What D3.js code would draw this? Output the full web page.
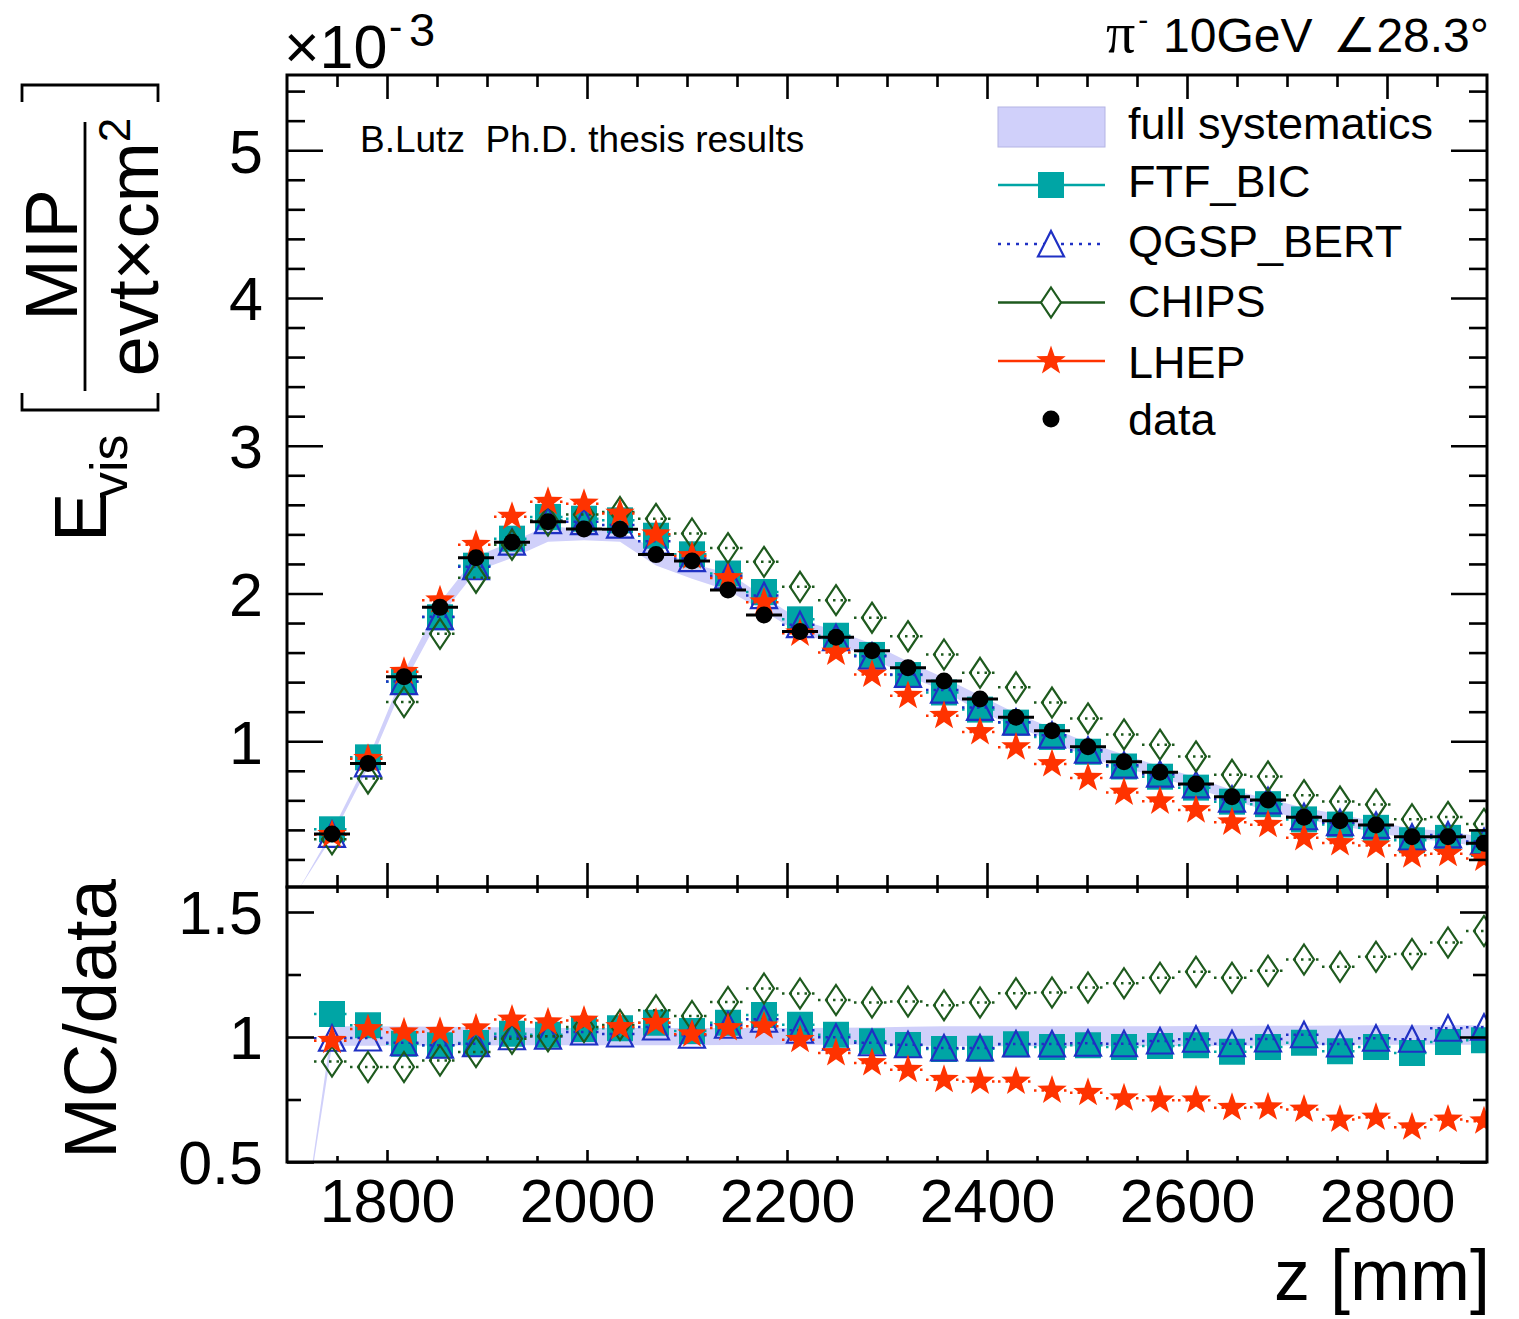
<!DOCTYPE html>
<html>
<head>
<meta charset="utf-8">
<script src="https://cdn.jsdelivr.net/npm/d3@7"></script>
<style>
  body { margin: 0; background: #fff; }
  svg { display: block; }
  text { font-family: "Liberation Sans", Arial, Helvetica, sans-serif; fill: #000; }
</style>
</head>
<body>
<div id="chart"></div>
<script>
// Longitudinal shower profile: bin centres along z [mm]
const zPos = [1745, 1781, 1817, 1853, 1889, 1925, 1961, 1997, 2033, 2069, 2105,
              2141, 2177, 2213, 2249, 2285, 2321, 2357, 2393, 2429, 2465, 2501,
              2537, 2573, 2609, 2645, 2681, 2717, 2753, 2789, 2825, 2861, 2897];
const binHalfWidth = 18;

// Visible energy per event and cm^2, in units of 1e-3 MIP
const dataVals  = [0.372, 0.850, 1.437, 1.906, 2.242, 2.346, 2.486, 2.437, 2.434, 2.263, 2.220,
                   2.024, 1.854, 1.742, 1.703, 1.613, 1.498, 1.408, 1.286, 1.162, 1.071, 0.963,
                   0.861, 0.790, 0.711, 0.625, 0.602, 0.485, 0.462, 0.433, 0.354, 0.354, 0.309];
const ftfVals   = [0.404, 0.891, 1.403, 1.839, 2.188, 2.371, 2.518, 2.506, 2.495, 2.391, 2.265,
                   2.135, 2.010, 1.825, 1.714, 1.584, 1.448, 1.330, 1.214, 1.126, 1.029, 0.929,
                   0.829, 0.760, 0.686, 0.591, 0.574, 0.471, 0.436, 0.414, 0.330, 0.346, 0.305];
const qgspVals  = [0.370, 0.847, 1.404, 1.843, 2.181, 2.348, 2.493, 2.486, 2.463, 2.354, 2.236,
                   2.119, 1.986, 1.789, 1.701, 1.576, 1.452, 1.346, 1.229, 1.129, 1.041, 0.939,
                   0.838, 0.777, 0.705, 0.608, 0.597, 0.489, 0.449, 0.431, 0.351, 0.366, 0.321];
const chipsVals = [0.336, 0.748, 1.265, 1.727, 2.107, 2.330, 2.493, 2.534, 2.551, 2.505, 2.406,
                   2.307, 2.214, 2.045, 1.955, 1.836, 1.711, 1.587, 1.463, 1.365, 1.262, 1.154,
                   1.046, 0.977, 0.897, 0.773, 0.762, 0.635, 0.592, 0.572, 0.472, 0.488, 0.440];
const lhepVals  = [0.367, 0.881, 1.470, 1.954, 2.329, 2.520, 2.620, 2.608, 2.541, 2.401, 2.253,
                   2.105, 1.941, 1.730, 1.601, 1.452, 1.308, 1.173, 1.062, 0.960, 0.846, 0.752,
                   0.653, 0.593, 0.534, 0.451, 0.435, 0.346, 0.311, 0.295, 0.228, 0.239, 0.206];

// MC / data ratios
const ftfRatio   = [1.092, 1.047, 0.973, 0.967, 0.976, 1.013, 1.009, 1.032, 1.035, 1.057, 1.024,
                    1.057, 1.088, 1.049, 1.009, 0.983, 0.968, 0.952, 0.953, 0.971, 0.960, 0.967,
                    0.960, 0.964, 0.967, 0.941, 0.960, 0.977, 0.943, 0.960, 0.936, 0.980, 0.987];
const qgspRatio  = [0.995, 0.996, 0.977, 0.967, 0.973, 1.001, 1.003, 1.020, 1.012, 1.040, 1.007,
                    1.047, 1.071, 1.027, 0.999, 0.977, 0.969, 0.956, 0.956, 0.972, 0.972, 0.975,
                    0.973, 0.984, 0.991, 0.973, 0.992, 1.009, 0.972, 0.995, 0.991, 1.035, 1.039];
const chipsRatio = [0.902, 0.880, 0.880, 0.906, 0.940, 0.993, 1.003, 1.040, 1.048, 1.107, 1.084,
                    1.140, 1.194, 1.174, 1.148, 1.138, 1.142, 1.127, 1.138, 1.175, 1.178, 1.198,
                    1.215, 1.237, 1.261, 1.237, 1.265, 1.310, 1.281, 1.321, 1.332, 1.378, 1.424];
const lhepRatio  = [0.985, 1.032, 1.019, 1.021, 1.035, 1.070, 1.059, 1.066, 1.040, 1.057, 1.011,
                    1.036, 1.043, 0.989, 0.936, 0.896, 0.869, 0.829, 0.822, 0.822, 0.786, 0.777,
                    0.755, 0.747, 0.747, 0.717, 0.719, 0.710, 0.670, 0.678, 0.639, 0.670, 0.663];

// Systematic uncertainty band (starts at the calorimeter front)
const bandZ  = [1712, 1745, 1781, 1817, 1853, 1889, 1925, 1961, 1997, 2033, 2069, 2105,
                2141, 2177, 2213, 2249, 2285, 2321, 2357, 2393, 2429, 2465, 2501,
                2537, 2573, 2609, 2645, 2681, 2717, 2753, 2789, 2825, 2861, 2897];
const bandLo = [0, 0.35, 0.82, 1.39, 1.84, 2.15, 2.24, 2.35, 2.36, 2.35, 2.19, 2.10,
                2.02, 1.88, 1.73, 1.66, 1.56, 1.44, 1.34, 1.20, 1.10, 1.00, 0.89,
                0.82, 0.755, 0.68, 0.60, 0.53, 0.47, 0.43, 0.38, 0.34, 0.32, 0.28];
const bandHi = [0, 0.39, 0.88, 1.47, 1.94, 2.25, 2.35, 2.46, 2.43, 2.42, 2.30, 2.20,
                2.14, 1.98, 1.82, 1.75, 1.66, 1.54, 1.43, 1.31, 1.19, 1.09, 0.99,
                0.91, 0.83, 0.755, 0.67, 0.61, 0.55, 0.505, 0.455, 0.41, 0.39, 0.35];
const ratioBandLo = [0.12, 0.965, 0.965, 0.965, 0.966, 0.966, 0.967, 0.967, 0.967, 0.967, 0.967, 0.967,
                     0.968, 0.968, 0.969, 0.969, 0.969, 0.966, 0.964, 0.963, 0.963, 0.963, 0.963,
                     0.963, 0.964, 0.964, 0.965, 0.966, 0.967, 0.968, 0.969, 0.969, 0.969, 0.969];
const ratioBandHi = [0.12, 1.043, 1.043, 1.042, 1.041, 1.040, 1.038, 1.036, 1.036, 1.036, 1.036, 1.036,
                     1.036, 1.036, 1.036, 1.037, 1.038, 1.041, 1.043, 1.043, 1.043, 1.043, 1.043,
                     1.043, 1.043, 1.044, 1.044, 1.045, 1.045, 1.046, 1.047, 1.047, 1.047, 1.047];

// Axis tick labels
const xTickLabels = [1800, 2000, 2200, 2400, 2600, 2800];
const yTopTickLabels = [1, 2, 3, 4, 5];
const yRatioTickLabels = [0.5, 1, 1.5];

// Legend
const legendLabels = ["full systematics", "FTF_BIC", "QGSP_BERT", "CHIPS", "LHEP", "data"];

// ---- styling ----
const BAND = "#d0d0fa", BAND_EDGE = "#b4b4e4";
const series = [
  { name: "FTF_BIC",   color: "#00a5a5", shape: "square",   top: ftfVals,   ratio: ftfRatio,   legendDash: null },
  { name: "QGSP_BERT", color: "#1f30c4", shape: "triangle", top: qgspVals,  ratio: qgspRatio,  legendDash: "3,6" },
  { name: "CHIPS",     color: "#1e5a1e", shape: "diamond",  top: chipsVals, ratio: chipsRatio, legendDash: null },
  { name: "LHEP",      color: "#ff3300", shape: "star",     top: lhepVals,  ratio: lhepRatio,  legendDash: null }
];

const W = 1519, H = 1319;
const X0 = 287, X1 = 1487, T0 = 75, T1 = 887, B1 = 1162;

const svg = d3.select("#chart").append("svg").attr("width", W).attr("height", H);
svg.append("rect").attr("width", W).attr("height", H).attr("fill", "#fff");

const x = d3.scaleLinear().domain([1700, 2900]).range([X0, X1]);
const yTop = d3.scaleLinear().domain([0.0135, 5.509]).range([T1, T0]);
const yRat = d3.scaleLinear().domain([0.5, 1.6]).range([B1, T1]);

const defs = svg.append("defs");
defs.append("clipPath").attr("id", "clipTop").append("rect")
  .attr("x", X0).attr("y", T0).attr("width", X1 - X0).attr("height", T1 - T0);
defs.append("clipPath").attr("id", "clipRat").append("rect")
  .attr("x", X0).attr("y", T1).attr("width", X1 - X0).attr("height", B1 - T1);

function markerPath(shape) {
  if (shape === "square") return "M-13,-13H13V13H-13Z";
  if (shape === "triangle") return "M0,-13L13,12.5L-13,12.5Z";
  if (shape === "diamond") return "M0,-15L10,0L0,15L-10,0Z";
  if (shape === "star") {
    const R = 15.5, r = 6.2;
    const pts = [];
    for (let k = 0; k < 10; k++) {
      const a = -Math.PI / 2 + k * Math.PI / 5;
      const rr = k % 2 === 0 ? R : r;
      pts.push([rr * Math.cos(a), rr * Math.sin(a)]);
    }
    return "M" + pts.map(p => p[0].toFixed(2) + "," + p[1].toFixed(2)).join("L") + "Z";
  }
  return "";
}
function drawMarker(g, shape, color, cx, cy) {
  const filled = shape === "square" || shape === "star";
  g.append("path")
    .attr("d", markerPath(shape))
    .attr("transform", `translate(${cx},${cy})`)
    .attr("fill", filled ? color : "none")
    .attr("stroke", filled ? "none" : color)
    .attr("stroke-width", filled ? 0 : 2.2)
    .attr("stroke-linejoin", "miter");
}

const idx = d3.range(zPos.length);
const bandIdx = d3.range(bandZ.length);

// ---- upper panel ----
const gTop = svg.append("g").attr("clip-path", "url(#clipTop)");
gTop.append("path")
  .attr("d", d3.area().x(i => x(bandZ[i])).y0(i => yTop(bandLo[i])).y1(i => yTop(bandHi[i]))(bandIdx))
  .attr("fill", BAND);

series.forEach(s => {
  const g = gTop.append("g");
  idx.forEach(i => {
    g.append("line")
      .attr("x1", x(zPos[i] - binHalfWidth)).attr("x2", x(zPos[i] + binHalfWidth))
      .attr("y1", yTop(s.top[i])).attr("y2", yTop(s.top[i]))
      .attr("stroke", s.color).attr("stroke-width", 2.5).attr("stroke-dasharray", "2.5,5");
  });
  idx.forEach(i => drawMarker(g, s.shape, s.color, x(zPos[i]), yTop(s.top[i])));
});

const gData = gTop.append("g");
idx.forEach(i => {
  gData.append("line")
    .attr("x1", x(zPos[i] - binHalfWidth)).attr("x2", x(zPos[i] + binHalfWidth))
    .attr("y1", yTop(dataVals[i])).attr("y2", yTop(dataVals[i]))
    .attr("stroke", "#000").attr("stroke-width", 3);
  gData.append("circle")
    .attr("cx", x(zPos[i])).attr("cy", yTop(dataVals[i])).attr("r", 8.5).attr("fill", "#000");
});

// ---- ratio panel ----
const gRat = svg.append("g").attr("clip-path", "url(#clipRat)");
gRat.append("path")
  .attr("d", d3.area().x(i => x(bandZ[i])).y0(i => yRat(ratioBandLo[i])).y1(i => yRat(ratioBandHi[i]))(bandIdx))
  .attr("fill", BAND);
series.forEach(s => {
  const g = gRat.append("g");
  idx.forEach(i => {
    g.append("line")
      .attr("x1", x(zPos[i] - binHalfWidth)).attr("x2", x(zPos[i] + binHalfWidth))
      .attr("y1", yRat(s.ratio[i])).attr("y2", yRat(s.ratio[i]))
      .attr("stroke", s.color).attr("stroke-width", 2.5).attr("stroke-dasharray", "2.5,5");
  });
  idx.forEach(i => drawMarker(g, s.shape, s.color, x(zPos[i]), yRat(s.ratio[i])));
});

// ---- axes (ticks) ----
const xMajor = d3.range(1800, 2801, 200);
const xMinor = d3.range(1750, 2900, 50).filter(v => !xMajor.includes(v));
const yTopMajor = d3.range(1, 6, 1);
const yTopMinor = d3.range(2, 56, 2).map(v => v / 10).filter(v => !Number.isInteger(v));
const yRatMajor = [0.5, 1, 1.5];
const yRatMinor = [0.75, 1.25];

function ticks(axisFn, scale, values, size, tx, ty) {
  const g = svg.append("g").attr("transform", `translate(${tx},${ty})`)
    .call(axisFn(scale).tickValues(values).tickSize(size).tickFormat(""));
  g.select(".domain").remove();
  g.selectAll("line").attr("stroke", "#000").attr("stroke-width", 2.6);
}
// upper panel
ticks(d3.axisRight, yTop, yTopMajor, 36, X0, 0);
ticks(d3.axisRight, yTop, yTopMinor, 18, X0, 0);
ticks(d3.axisLeft, yTop, yTopMajor, 36, X1, 0);
ticks(d3.axisLeft, yTop, yTopMinor, 18, X1, 0);
ticks(d3.axisTop, x, xMajor, 24, 0, T1);
ticks(d3.axisTop, x, xMinor, 12, 0, T1);
ticks(d3.axisBottom, x, xMajor, 24, 0, T0);
ticks(d3.axisBottom, x, xMinor, 12, 0, T0);
// ratio panel
ticks(d3.axisRight, yRat, yRatMajor, 27, X0, 0);
ticks(d3.axisRight, yRat, yRatMinor, 14, X0, 0);
ticks(d3.axisLeft, yRat, yRatMajor, 27, X1, 0);
ticks(d3.axisLeft, yRat, yRatMinor, 14, X1, 0);
ticks(d3.axisBottom, x, xMajor, 11, 0, T1);
ticks(d3.axisBottom, x, xMinor, 6, 0, T1);
ticks(d3.axisTop, x, xMajor, 12, 0, B1);
ticks(d3.axisTop, x, xMinor, 6, 0, B1);

// frames
svg.append("rect").attr("x", X0).attr("y", T0).attr("width", X1 - X0).attr("height", T1 - T0)
  .attr("fill", "none").attr("stroke", "#000").attr("stroke-width", 3);
svg.append("rect").attr("x", X0).attr("y", T1).attr("width", X1 - X0).attr("height", B1 - T1)
  .attr("fill", "none").attr("stroke", "#000").attr("stroke-width", 3);

// ---- tick labels ----
function labels(axis, tx, ty, dy) {
  const g = svg.append("g").attr("transform", `translate(${tx},${ty})`).call(axis);
  g.select(".domain").remove();
  g.attr("font-size", 61).attr("font-family", null);
  g.selectAll("text").attr("dy", dy).style("font-size", "61px");
  return g;
}
labels(d3.axisLeft(yTop).tickValues(yTopTickLabels).tickSize(0).tickPadding(24).tickFormat(d3.format("d")), X0, 0, "0.36em");
labels(d3.axisLeft(yRat).tickValues(yRatioTickLabels).tickSize(0).tickPadding(24).tickFormat(d => String(d)), X0, 0, "0.36em");
labels(d3.axisBottom(x).tickValues(xTickLabels).tickSize(0).tickPadding(17).tickFormat(d3.format("d")), 0, B1, "0.71em");

// exponent of the upper y axis
svg.append("text").attr("x", 284).attr("y", 68).style("font-size", "61px").text("\u00d710");
svg.append("text").attr("x", 389).attr("y", 40).style("font-size", "40px").text("-");
svg.append("text").attr("x", 409).attr("y", 46).style("font-size", "47px").text("3");

// ---- axis titles ----
// E_vis [MIP / (evt x cm^2)]
svg.append("text").attr("transform", "translate(106,542) rotate(-90)")
  .style("font-size", "74px").text("E");
svg.append("text").attr("transform", "translate(127,498) rotate(-90)")
  .style("font-size", "52px").text("vis");
svg.append("path").attr("d", "M22,393V410H158V393").attr("fill", "none").attr("stroke", "#000").attr("stroke-width", 2.8);
svg.append("path").attr("d", "M22,102V85H158V102").attr("fill", "none").attr("stroke", "#000").attr("stroke-width", 2.8);
svg.append("line").attr("x1", 85).attr("x2", 85).attr("y1", 122).attr("y2", 391)
  .attr("stroke", "#000").attr("stroke-width", 2.8);
svg.append("text").attr("transform", "translate(77,255) rotate(-90)")
  .attr("text-anchor", "middle").style("font-size", "74px").text("MIP");
const frac = svg.append("text").attr("transform", "translate(158,247) rotate(-90)")
  .attr("text-anchor", "middle").style("font-size", "72px");
frac.append("tspan").text("evt\u00d7cm");
frac.append("tspan").attr("dy", -28).style("font-size", "44px").text("2");

svg.append("text").attr("transform", "translate(116,1019) rotate(-90)")
  .attr("text-anchor", "middle").style("font-size", "74px").text("MC/data");

svg.append("text").attr("x", 1490).attr("y", 1300).attr("text-anchor", "end")
  .style("font-size", "72px").text("z [mm]");

// ---- header texts ----
const beam = svg.append("text").attr("x", 1106).attr("y", 52).style("font-size", "48px");
beam.append("tspan").style("font-family", "'Liberation Serif', 'DejaVu Serif', serif")
  .style("font-size", "58px").text("\u03c0");
beam.append("tspan").attr("dx", 3).attr("dy", -22).style("font-size", "30px").text("-");
svg.append("text").attr("x", 1163).attr("y", 52).style("font-size", "48px").text("10GeV");
svg.append("text").attr("x", 1489).attr("y", 52).attr("text-anchor", "end")
  .style("font-size", "48px").text("\u222028.3\u00b0");

svg.append("text").attr("x", 360).attr("y", 152).style("font-size", "37px")
  .style("white-space", "pre").text("B.Lutz  Ph.D. thesis results");

// ---- legend ----
const legendTextBase = [139, 197, 257, 317, 378, 435];
const legendSymY = [127, 185, 244, 302.5, 361, 419];
const LX0 = 998, LX1 = 1105, LXC = 1051, LXT = 1128;
const leg = svg.append("g");
leg.append("rect").attr("x", LX0).attr("y", 107).attr("width", LX1 - LX0).attr("height", 40)
  .attr("fill", BAND).attr("stroke", BAND_EDGE).attr("stroke-width", 1);
series.forEach((s, k) => {
  const yy = legendSymY[k + 1];
  leg.append("line").attr("x1", LX0).attr("x2", LX1).attr("y1", yy).attr("y2", yy)
    .attr("stroke", s.color).attr("stroke-width", 2.6)
    .attr("stroke-dasharray", s.legendDash);
  if (s.shape === "triangle" || s.shape === "diamond") {
    leg.append("path").attr("d", markerPath(s.shape)).attr("transform", `translate(${LXC},${yy})`)
      .attr("fill", "#fff").attr("stroke", "none");
  }
  drawMarker(leg, s.shape, s.color, LXC, yy);
});
leg.append("circle").attr("cx", LXC).attr("cy", legendSymY[5]).attr("r", 8.5).attr("fill", "#000");
legendLabels.forEach((t, k) => {
  leg.append("text").attr("x", LXT).attr("y", legendTextBase[k]).style("font-size", "45px").text(t);
});
</script>
</body>
</html>
